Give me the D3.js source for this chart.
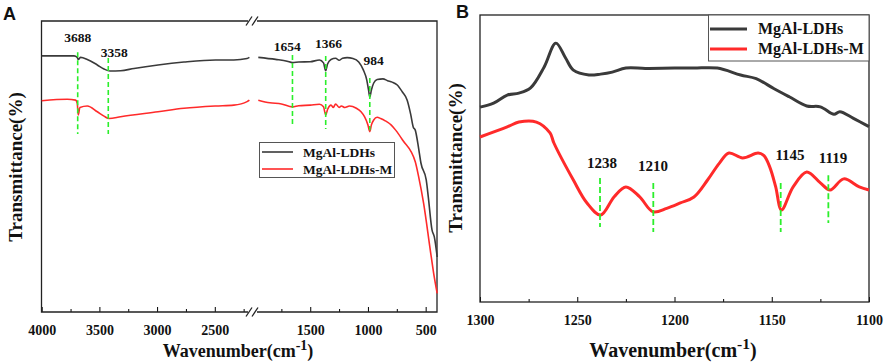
<!DOCTYPE html>
<html>
<head>
<meta charset="utf-8">
<script src="https://cdn.jsdelivr.net/npm/d3@7"></script>
<style>
  body { margin: 0; background: #fff; }
  svg { display: block; }
  text { font-family: "Liberation Serif", "Times New Roman", serif; font-weight: bold; }
  text.panel { font-family: "Liberation Sans", Arial, sans-serif; }
</style>
</head>
<body>
<div class="canvas"></div>
<script>
// ---- data (transmittance in arbitrary %) ----
// panel A, high wavenumber segment
const ldhA_left = [[4000,88.0],[3720,88.0],[3692,87.5],[3683,86.8],[3663,87.5],[3605,86.8],[3518,84.9],[3460,83.5],[3408,82.8],[3316,82.9],[3200,83.7],[2992,84.9],[2767,85.9],[2493,86.6],[2335,86.6],[2220,87.1],[2200,87.5]];
const ldhMA_left = [[4000,72.6],[3778,73.1],[3706,72.8],[3692,71.7],[3683,67.7],[3669,70.3],[3605,70.8],[3518,68.8],[3460,67.3],[3417,66.5],[3316,67.1],[2992,68.8],[2767,70.0],[2493,70.8],[2335,71.1],[2220,72.3],[2200,72.8]];
// panel A, low wavenumber segment
const ldhA_right = [[1950,87.5],[1800,86.8],[1700,86.2],[1654,85.7],[1600,85.9],[1500,86.0],[1420,86.6],[1385,85.6],[1366,82.9],[1350,85.2],[1320,86.8],[1280,87.2],[1250,86.5],[1220,87.2],[1180,87.4],[1130,87.1],[1080,85.9],[1040,83.2],[1010,79.7],[995,76.3],[984,73.9],[970,76.3],[950,78.7],[920,79.9],[870,80.1],[830,79.5],[790,79.0],[746,78.0],[700,75.5],[660,72.8],[630,68.0],[608,63.6],[590,62.5],[560,56.0],[541,51.2],[495,45.4],[477,39.5],[445,28.2],[425,25.8],[400,18.9]];
const ldhMA_right = [[1950,72.8],[1850,71.9],[1750,71.5],[1654,70.5],[1600,70.9],[1500,71.1],[1420,71.4],[1385,70.5],[1366,67.7],[1350,69.6],[1320,71.1],[1300,70.3],[1280,71.5],[1250,70.3],[1230,70.8],[1200,70.3],[1160,70.8],[1100,70.0],[1060,68.8],[1030,67.1],[1000,64.3],[984,62.0],[970,64.3],[950,66.0],[920,66.9],[890,66.5],[850,65.7],[800,64.3],[760,62.5],[700,59.1],[590,51.6],[561,46.5],[518,37.4],[460,21.3],[431,13.4],[400,6.4]];
// panel B
const ldhB = [[1300,67.9],[1293,69.3],[1286,72.1],[1280,72.8],[1274,74.6],[1267,81.9],[1261,90.2],[1256,85.0],[1252,80.8],[1244,79.1],[1238,79.4],[1232,80.1],[1225,81.5],[1215,81.4],[1200,81.5],[1190,81.5],[1178,81.5],[1166,79.1],[1158,77.8],[1149,74.4],[1141,71.5],[1132,68.3],[1125,68.0],[1118,65.4],[1115,66.3],[1108,64.0],[1100,61.1]];
const ldhMB = [[1300,57.5],[1286,61.0],[1280,62.7],[1271,62.7],[1264,58.9],[1262,55.4],[1252,42.5],[1245,34.5],[1238,30.3],[1231,36.7],[1225,40.1],[1218,36.7],[1211,31.4],[1204,32.6],[1197,34.5],[1190,36.6],[1183,42.5],[1177,48.3],[1172,51.9],[1165,50.2],[1157,51.9],[1154,51.0],[1151,47.0],[1148,40.2],[1145,32.1],[1139,40.1],[1132,45.3],[1125,41.5],[1120,39.0],[1113,42.9],[1105,40.1],[1100,39.0]];

const seriesNames = ["MgAl-LDHs", "MgAl-LDHs-M"];
const colors = ["#3a3a3a", "#ff2a2a"];

// tick labels
const ticksA_left = [4000, 3500, 3000, 2500];
const minorA_left = [3750, 3250, 2750, 2250];
const ticksA_right = [1500, 1000, 500];
const minorA_right = [1750, 1250, 750];
const ticksB = [1300, 1250, 1200, 1150, 1100];
const minorB = [1275, 1225, 1175, 1125];

// peak markers: label, line wavenumber, line top/bottom, label wavenumber, label level
const peaksA = [
  {label: "3688", wn: 3688, top: 89.3, bottom: 61.2, lx: 3688, ly: 92.8, seg: "L"},
  {label: "3358", wn: 3423, top: 87.3, bottom: 61.2, lx: 3371, ly: 87.6, seg: "L"},
  {label: "1654", wn: 1654, top: 88.3, bottom: 63.6, lx: 1699, ly: 89.7, seg: "R"},
  {label: "1366", wn: 1366, top: 88.0, bottom: 62.9, lx: 1341, ly: 90.7, seg: "R"},
  {label: "984",  wn: 984,  top: 80.4, bottom: 62.5, lx: 951,  ly: 84.9, seg: "R"}
];
const peaksB = [
  {label: "1238", wn: 1238.3, top: 43.2, bottom: 26.1, lx: 1237.3, ly: 46.7},
  {label: "1210", wn: 1210.9, top: 41.5, bottom: 24.4, lx: 1211, ly: 45.6},
  {label: "1145", wn: 1145.4, top: 41.5, bottom: 24.4, lx: 1140.6, ly: 49.5},
  {label: "1119", wn: 1120.9, top: 44.2, bottom: 27.5, lx: 1118.5, ly: 48.4}
];

const W = 886, H = 364;
const svg = d3.select(".canvas").append("svg")
    .attr("width", W).attr("height", H);
svg.append("rect").attr("width", W).attr("height", H).attr("fill", "#fff");

const green = "#2bef2b";

// ================= Panel A =================
const fA = {l: 41.5, r: 437, t: 21, b: 312};
const xL = d3.scaleLinear().domain([4000, 2200]).range([41.7, 249.4]);
const xR = d3.scaleLinear().domain([1950, 400]).range([258.3, 437.2]);
const yA = d3.scaleLinear().domain([0, 100]).range([fA.b, fA.t]);

const gA = svg.append("g");

function drawAxisA(scale, major, minor) {
    gA.append("g")
        .attr("transform", `translate(0,${fA.b})`)
        .call(d3.axisBottom(scale).tickValues(major).tickSize(-5).tickPadding(13).tickFormat(d3.format("d")))
        .call(g => g.select(".domain").remove())
        .call(g => g.selectAll("text").attr("font-size", 14).attr("fill", "#111"));
    gA.append("g")
        .attr("transform", `translate(0,${fA.b})`)
        .call(d3.axisBottom(scale).tickValues(minor).tickSize(-3).tickFormat(""))
        .call(g => g.select(".domain").remove());
}
drawAxisA(xL, ticksA_left, minorA_left);
drawAxisA(xR, ticksA_right, minorA_right);

// frame with break gaps
const frame = gA.append("g").attr("stroke", "#222").attr("stroke-width", 1.3).attr("fill", "none");
frame.append("path").attr("d", `M248,${fA.t}H${fA.l}V${fA.b}H248`);
frame.append("path").attr("d", `M257,${fA.t}H${fA.r}V${fA.b}H257`);
// break marks
[fA.t, fA.b].forEach(yy => {
    [0, 6].forEach(dx => {
        frame.append("line")
            .attr("x1", 246 + dx).attr("y1", yy + 4.5)
            .attr("x2", 252 + dx).attr("y2", yy - 4.5);
    });
});

// curves
const lineL = d3.line().x(d => xL(d[0])).y(d => yA(d[1])).curve(d3.curveMonotoneX);
const lineR = d3.line().x(d => xR(d[0])).y(d => yA(d[1])).curve(d3.curveMonotoneX);
[[ldhA_left, ldhA_right], [ldhMA_left, ldhMA_right]].forEach((pair, i) => {
    gA.append("path").datum(pair[0]).attr("d", lineL)
        .attr("fill", "none").attr("stroke", colors[i]).attr("stroke-width", 1.6);
    gA.append("path").datum(pair[1]).attr("d", lineR)
        .attr("fill", "none").attr("stroke", colors[i]).attr("stroke-width", 1.6);
});

// peak markers
peaksA.forEach(p => {
    const sx = p.seg === "L" ? xL : xR;
    gA.append("line")
        .attr("x1", sx(p.wn)).attr("x2", sx(p.wn))
        .attr("y1", yA(p.top)).attr("y2", yA(p.bottom))
        .attr("stroke", green).attr("stroke-width", 1.6).attr("stroke-dasharray", "5,3");
    gA.append("text")
        .attr("x", sx(p.lx)).attr("y", yA(p.ly))
        .attr("text-anchor", "middle").attr("font-size", 13.5).attr("fill", "#111")
        .text(p.label);
});

// legend A
const legA = gA.append("g");
legA.append("rect").attr("x", 259.5).attr("y", 142.5).attr("width", 135).attr("height", 35)
    .attr("fill", "#fff").attr("stroke", "#555").attr("stroke-width", 1);
seriesNames.forEach((name, i) => {
    const yy = 152 + i * 17;
    legA.append("line").attr("x1", 262).attr("x2", 293).attr("y1", yy).attr("y2", yy)
        .attr("stroke", colors[i]).attr("stroke-width", 1.6);
    legA.append("text").attr("x", 303).attr("y", yy + 4.5)
        .attr("font-size", 13.5).attr("fill", "#111").text(name);
});

// axis titles
function xTitle(g, cx, y, size) {
    const t = g.append("text").attr("x", cx).attr("y", y)
        .attr("text-anchor", "middle").attr("font-size", size).attr("fill", "#111");
    t.append("tspan").text("Wavenumber(cm");
    t.append("tspan").attr("dy", -size * 0.4).attr("font-size", size * 0.78).text("-1");
    t.append("tspan").attr("dy", size * 0.4).text(")");
}
function yTitle(g, cx, cy, size) {
    g.append("text").attr("transform", `translate(${cx},${cy}) rotate(-90)`)
        .attr("text-anchor", "middle").attr("dy", "0.35em")
        .attr("font-size", size).attr("fill", "#111").text("Transmittance(%)");
}
xTitle(gA, 238, 357, 18);
yTitle(gA, 15, 167, 19);
gA.append("text").attr("class", "panel").attr("x", 3).attr("y", 20)
    .attr("font-size", 18).attr("fill", "#111").text("A");

// ================= Panel B =================
const fB = {l: 480, r: 869, t: 15, b: 302};
const xB = d3.scaleLinear().domain([1300, 1100]).range([fB.l, fB.r]);
const yB = d3.scaleLinear().domain([0, 100]).range([fB.b, fB.t]);
const gB = svg.append("g");

gB.append("g")
    .attr("transform", `translate(0,${fB.b})`)
    .call(d3.axisBottom(xB).tickValues(ticksB).tickSize(-5).tickPadding(13).tickFormat(d3.format("d")))
    .call(g => g.select(".domain").remove())
    .call(g => g.selectAll("text").attr("font-size", 14).attr("fill", "#111"));
gB.append("g")
    .attr("transform", `translate(0,${fB.b})`)
    .call(d3.axisBottom(xB).tickValues(minorB).tickSize(-3).tickFormat(""))
    .call(g => g.select(".domain").remove());

gB.append("rect").attr("x", fB.l).attr("y", fB.t)
    .attr("width", fB.r - fB.l).attr("height", fB.b - fB.t)
    .attr("fill", "none").attr("stroke", "#222").attr("stroke-width", 1.3);

const lineB = d3.line().x(d => xB(d[0])).y(d => yB(d[1])).curve(d3.curveCatmullRom);
[ldhB, ldhMB].forEach((s, i) => {
    gB.append("path").datum(s).attr("d", lineB)
        .attr("fill", "none").attr("stroke", colors[i]).attr("stroke-width", 3);
});

peaksB.forEach(p => {
    gB.append("line")
        .attr("x1", xB(p.wn)).attr("x2", xB(p.wn))
        .attr("y1", yB(p.top)).attr("y2", yB(p.bottom))
        .attr("stroke", green).attr("stroke-width", 1.8).attr("stroke-dasharray", "6,3");
    gB.append("text")
        .attr("x", xB(p.lx)).attr("y", yB(p.ly))
        .attr("text-anchor", "middle").attr("font-size", 15).attr("fill", "#111")
        .text(p.label);
});

// legend B
const legB = gB.append("g");
legB.append("rect").attr("x", 708.5).attr("y", 15).attr("width", 160.5).attr("height", 46)
    .attr("fill", "#fff").attr("stroke", "#555").attr("stroke-width", 1);
seriesNames.forEach((name, i) => {
    const yy = 29 + i * 20;
    legB.append("line").attr("x1", 710).attr("x2", 747).attr("y1", yy).attr("y2", yy)
        .attr("stroke", colors[i]).attr("stroke-width", 3);
    legB.append("text").attr("x", 758).attr("y", yy + 5)
        .attr("font-size", 16).attr("fill", "#111").text(name);
});

xTitle(gB, 673, 357, 20);
yTitle(gB, 455, 158, 19);
gB.append("text").attr("class", "panel").attr("x", 456).attr("y", 18)
    .attr("font-size", 18).attr("fill", "#111").text("B");
</script>
</body>
</html>
